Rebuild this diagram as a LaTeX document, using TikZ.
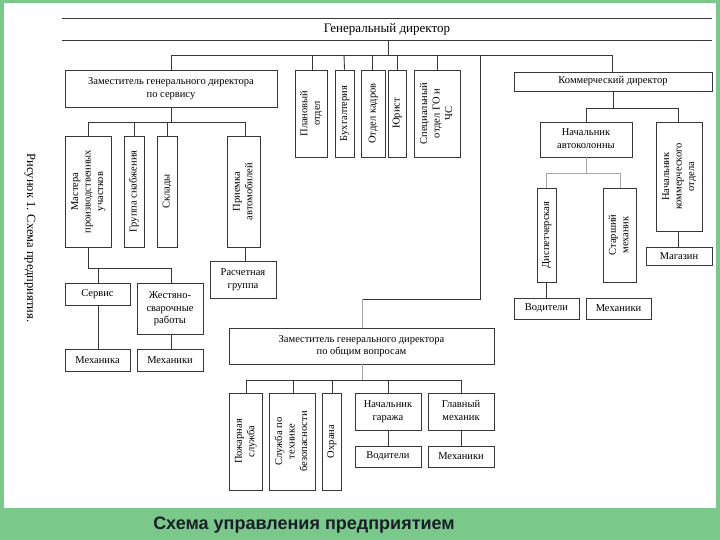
\documentclass[tikz,border=0pt]{standalone}
\usepackage{fontspec}
\setmainfont{Liberation Serif}
\newfontfamily\ttlfont{Liberation Sans}
\usepackage{graphicx}
\definecolor{bggreen}{RGB}{122,200,138}
\definecolor{ln}{RGB}{55,55,55}
\definecolor{ttl}{RGB}{25,30,40}
\newcommand\bx[7]{\node[box,minimum width={(#4-#2)*1pt},minimum height={(#5-#3)*1pt}] (#1) at ({(#2+#4)/2},{(#3+#5)/2}) {#6#7};}
\newcommand\rt[1]{\rotatebox{90}{\begin{tabular}{@{}c@{}}#1\end{tabular}}}
\newcommand\hz[1]{\begin{tabular}{@{}c@{}}#1\end{tabular}}
\newcommand\one[1]{\raisebox{-2pt}{#1}}
\begin{document}
\begin{tikzpicture}[x=1pt,y=-1pt,
  box/.style={draw=ln,line width=0.9pt,inner sep=0pt,align=center,font=\fontsize{10.5}{12.5}\selectfont,fill=white},
  con/.style={draw=ln,line width=0.9pt},
  faint/.style={draw=gray!70,line width=0.6pt}]
\fill[bggreen] (0,0) rectangle (720,540);
\fill[white] (4,3) rectangle (716,508);
\useasboundingbox (0,0) rectangle (720,540);
% general director
\draw[con] (62,18) -- (712,18);
\draw[con] (62,40) -- (712,40);
\node[font=\fontsize{13}{15}\selectfont] (gd) at (387,29) {Генеральный директор};
\coordinate (gdb) at (388,40);
\coordinate (busA) at (388,55);
% boxes
\bx{ds}{65}{70}{277}{107}{\hz{Заместитель генерального директора\\по сервису}}{}
\bx{pl}{295}{70}{327}{157}{\rt{Плановый\\отдел}}{}
\bx{bu}{335}{70}{354}{157}{\rt{Бухгалтерия}}{}
\bx{ok}{361}{70}{385}{157}{\rt{Отдел кадров}}{}
\bx{yu}{388}{70}{406}{157}{\rt{Юрист}}{}
\bx{sp}{414}{70}{460}{157}{\rt{Специальный\\отдел ГО и\\ЧС}}{}
\bx{kd}{514}{72}{712}{91}{\one{Коммерческий директор}}{}
\bx{ma}{65}{136}{111}{247}{\rt{Мастера\\производственных\\участков}}{}
\bx{gs}{124}{136}{144}{247}{\rt{Группа снабжения}}{}
\bx{sk}{157}{136}{177}{247}{\rt{Склады}}{}
\bx{pr}{227}{136}{260}{247}{\rt{Приемка\\автомобилей}}{}
\bx{rg}{210}{261}{276}{298}{\hz{Расчетная\\группа}}{}
\bx{se}{65}{283}{130}{305}{\one{Сервис}}{}
\bx{zh}{137}{283}{203}{334}{\hz{Жестяно-\\сварочные\\работы}}{}
\bx{m1}{65}{349}{130}{371}{\one{Механика}}{}
\bx{m2}{137}{349}{203}{371}{\one{Механики}}{}
\bx{na}{540}{122}{632}{157}{\hz{Начальник\\автоколонны}}{}
\bx{nk}{656}{122}{702}{231}{\rt{Начальник\\коммерческого\\отдела}}{}
\bx{mg}{646}{247}{712}{265}{\one{Магазин}}{}
\bx{di}{537}{188}{556}{282}{\rt{Диспетчерская}}{}
\bx{sm}{603}{188}{636}{282}{\rt{Старший\\механик}}{}
\bx{v1}{514}{298}{579}{319}{\one{Водители}}{}
\bx{m3}{586}{298}{651}{319}{\one{Механики}}{}
\bx{dg}{229}{328}{494}{364}{\hz{Заместитель генерального директора\\по общим вопросам}}{}
\bx{ps}{229}{393}{262}{490}{\rt{Пожарная\\служба}}{}
\bx{tb}{269}{393}{315}{490}{\rt{Служба по\\технике\\безопасности}}{}
\bx{oh}{322}{393}{341}{490}{\rt{Охрана}}{}
\bx{ng}{355}{393}{421}{430}{\hz{Начальник\\гаража}}{}
\bx{gm}{428}{393}{494}{430}{\hz{Главный\\механик}}{}
\bx{v2}{355}{446}{421}{467}{\one{Водители}}{}
\bx{m4}{428}{446}{494}{467}{\one{Механики}}{}
% connectors
\draw[con] (gdb) -- (busA);
\draw[con] (ds.north) -- (ds.north |- busA) -- (612,55) -- (kd.north -| 612,0);
\draw[con] (312,55) -- (pl.north -| 312,0);
\draw[con] (344,55) -- (bu.north);
\draw[con] (372,55) -- (ok.north -| 372,0);
\draw[con] (397,55) -- (yu.north);
\draw[con] (437,55) -- (sp.north);
\draw[con] (480,55) -- (480,299) -- (362,299);
\draw[faint] (362,299) -- (dg.north -| 362,0);
\draw[con] (ds.south) -- (171,122);
\draw[con] (ma.north -| 88,0) -- (88,122) -- (245,122) -- (pr.north -| 245,0);
\draw[con] (gs.north) -- (gs.north |- 0,122);
\draw[con] (sk.north) -- (sk.north |- 0,122);
\draw[con] (ma.south -| 88,0) -- (88,268) -- (171,268) -- (zh.north -| 171,0);
\draw[con] (se.north -| 98,0) -- (98,268);
\draw[con] (se.south -| 98,0) -- (m1.north -| 98,0);
\draw[con] (zh.south -| 171,0) -- (m2.north -| 171,0);
\draw[con] (pr.south -| 245,0) -- (rg.north -| 245,0);
\draw[con] (kd.south -| 613,0) -- (613,108);
\draw[con] (na.north -| 586,0) -- (586,108) -- (678,108) -- (nk.north -| 678,0);
\draw[con] (nk.south -| 678,0) -- (mg.north -| 678,0);
\draw[faint] (na.south -| 586,0) -- (586,173);
\draw[faint] (di.north -| 546,0) -- (546,173) -- (620,173) -- (sm.north -| 620,0);
\draw[con] (di.south -| 546,0) -- (v1.north -| 546,0);
\draw[faint] (dg.south -| 362,0) -- (362,380);
\draw[con] (ps.north -| 246,0) -- (246,380) -- (461,380) -- (gm.north -| 461,0);
\draw[con] (tb.north -| 293,0) -- (293,380);
\draw[con] (oh.north -| 332,0) -- (332,380);
\draw[con] (ng.north) -- (ng.north |- 0,380);
\draw[con] (ng.south) -- (v2.north);
\draw[con] (gm.south) -- (m4.north);
% captions
\node[rotate=-90,font=\fontsize{12.5}{14}\selectfont] (cap) at (30,238) {Рисунок 1. Схема предприятия.};
\node[font=\ttlfont\bfseries\fontsize{18}{21}\selectfont,text=ttl] (title) at (304,525) {Схема управления предприятием};
\end{tikzpicture}
\end{document}
